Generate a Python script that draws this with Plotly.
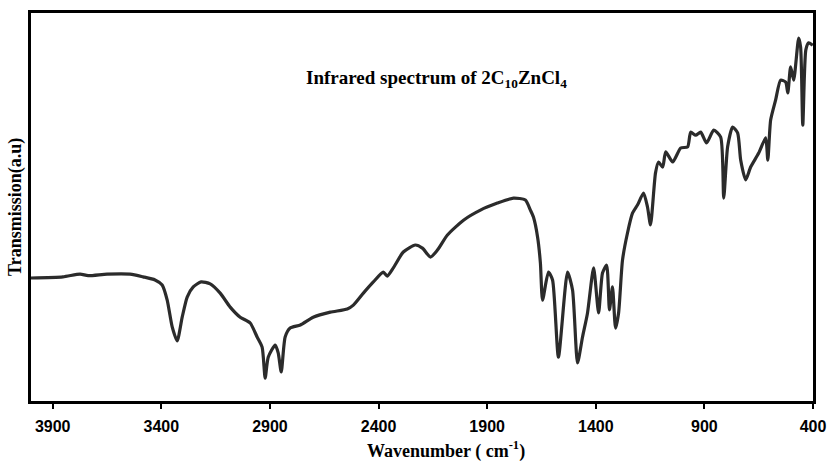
import plotly.graph_objects as go

# Wavenumber (cm-1) and transmission (a.u.)
wavenumber = [4000, 3853, 3774, 3737, 3650, 3544, 3484, 3429, 3396, 3373, 3350, 3327, 3304, 3281,
              3253, 3217, 3175, 3129, 3083, 3037, 2991, 2959, 2936, 2922, 2908, 2876, 2862, 2848,
              2830, 2807, 2760, 2701, 2622, 2544, 2516, 2470, 2424, 2378, 2360, 2332, 2286, 2231,
              2198, 2161, 2129, 2083, 2009, 1931, 1853, 1779, 1724, 1701, 1687, 1668, 1655, 1645,
              1618, 1599, 1572, 1530, 1507, 1484, 1461, 1438, 1410, 1387, 1369, 1350, 1337, 1323,
              1309, 1295, 1277, 1254, 1231, 1208, 1180, 1162, 1148, 1125, 1111, 1092, 1078, 1046,
              1009, 977, 963, 940, 917, 890, 857, 825, 811, 793, 770, 747, 733, 710, 687, 650,
              618, 608, 595, 572, 549, 526, 516, 503, 489, 466, 457, 447, 433, 420, 401]
transmission = [31.7, 32.0, 32.7, 32.3, 32.7, 32.7, 32.0, 31.2, 29.9, 26.0, 19.1, 15.5, 21.6, 26.8,
                29.4, 30.7, 30.2, 27.8, 24.2, 21.6, 20.1, 16.5, 13.9, 5.9, 11.3, 14.4, 12.4, 7.5,
                16.5, 18.8, 19.6, 21.6, 22.9, 23.7, 24.7, 27.8, 30.7, 33.2, 32.2, 34.3, 38.4, 40.2,
                39.4, 37.1, 38.9, 42.8, 46.6, 49.2, 51.0, 52.3, 51.8, 49.2, 47.4, 42.3, 35.6, 26.0,
                33.2, 31.2, 11.3, 33.2, 28.6, 9.8, 16.5, 22.7, 34.3, 22.7, 33.0, 35.0, 23.5, 29.4,
                18.8, 22.7, 36.3, 43.3, 48.4, 50.5, 53.6, 50.0, 45.4, 58.8, 61.6, 60.3, 64.2, 61.6,
                65.2, 65.5, 69.3, 68.5, 69.3, 66.5, 69.8, 68.0, 52.3, 65.5, 70.6, 69.1, 62.1, 57.0,
                60.3, 63.9, 67.8, 62.1, 72.4, 77.6, 82.7, 82.2, 79.4, 86.1, 82.7, 93.5, 91.2, 71.1,
                90.5, 92.3, 91.7]

x_ticks = [3900, 3400, 2900, 2400, 1900, 1400, 900, 400]
x_range = [4000, 400]
y_range = [0, 100]

fig = go.Figure()
fig.add_trace(go.Scatter(
    x=wavenumber, y=transmission, mode="lines",
    line=dict(color="#2b2b2b", width=3.2, shape="spline", smoothing=0.6),
    showlegend=False, hoverinfo="skip"))

fig.update_layout(
    width=828, height=464,
    margin=dict(l=31, r=15, t=13, b=63),
    paper_bgcolor="white", plot_bgcolor="white",
    showlegend=False,
    xaxis=dict(range=x_range, tickmode="array", tickvals=x_ticks,
               ticktext=[str(t) for t in x_ticks],
               showline=True, linecolor="black", linewidth=3, mirror=True,
               ticks="outside", ticklen=5, tickwidth=2, tickcolor="black",
               ticklabelstandoff=4, ticklabeloverflow="allow",
               showgrid=False, zeroline=False, automargin=False,
               tickfont=dict(family="Liberation Sans", size=16, color="black", weight="bold")),
    yaxis=dict(range=y_range, showticklabels=False, ticks="",
               showline=True, linecolor="black", linewidth=3, mirror=True,
               showgrid=False, zeroline=False, automargin=False),
    annotations=[
        dict(text="<b>Infrared spectrum of 2C<sub>10</sub>ZnCl<sub>4</sub></b>",
             xref="paper", yref="paper", x=0.518, y=0.83, xanchor="center", yanchor="middle",
             showarrow=False, font=dict(family="Liberation Serif", size=19, color="black")),
        dict(text="<b>Wavenumber ( cm<sup>-1</sup>)</b>",
             xref="paper", yref="paper", x=0.531, y=0, yshift=-49, xanchor="center", yanchor="middle",
             showarrow=False, font=dict(family="Liberation Serif", size=18, color="black")),
        dict(text="<b>Transmission(a.u)</b>", textangle=-90,
             xref="paper", yref="paper", x=0, xshift=-16, y=0.5, xanchor="center", yanchor="middle",
             showarrow=False, font=dict(family="Liberation Serif", size=18, color="black")),
    ],
)

fig.write_html("out.html", config={"displayModeBar": False},
               post_script="document.body.style.margin='0';")
